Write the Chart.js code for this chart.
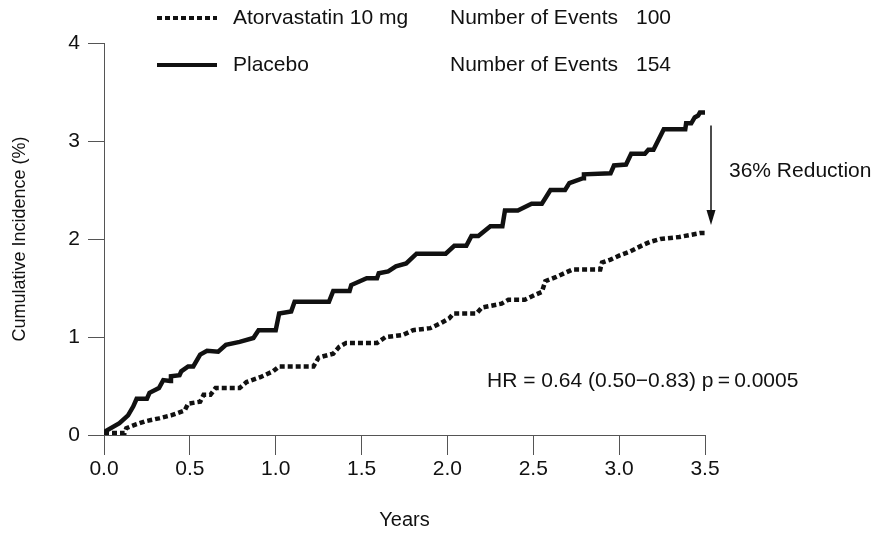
<!DOCTYPE html>
<html>
<head>
<meta charset="utf-8">
<script src="https://cdn.jsdelivr.net/npm/chart.js@4/dist/chart.umd.min.js"></script>
<style>
  html, body { margin: 0; padding: 0; background: #fff; }
  #wrap { width: 875px; height: 534px; position: relative; }
</style>
</head>
<body>
<div id="wrap"><canvas id="c" width="875" height="534"></canvas></div>
<script>
// ---- Data ----
const placeboYears = [0.0, 0.09, 0.14, 0.17, 0.19, 0.25, 0.265, 0.32, 0.345, 0.385, 0.39, 0.44, 0.45, 0.49, 0.52, 0.56, 0.60, 0.665, 0.71, 0.79, 0.87, 0.90, 1.00, 1.02, 1.09, 1.11, 1.31, 1.335, 1.43, 1.44, 1.53, 1.59, 1.60, 1.655, 1.70, 1.76, 1.82, 1.99, 2.04, 2.11, 2.14, 2.18, 2.25, 2.32, 2.335, 2.41, 2.49, 2.55, 2.60, 2.685, 2.71, 2.79, 2.795, 2.95, 2.97, 3.04, 3.07, 3.15, 3.17, 3.20, 3.26, 3.385, 3.39, 3.42, 3.44, 3.46, 3.47, 3.50];
const placeboIncidence = [0.03, 0.12, 0.20, 0.29, 0.37, 0.37, 0.43, 0.48, 0.56, 0.55, 0.60, 0.61, 0.65, 0.70, 0.70, 0.82, 0.86, 0.85, 0.92, 0.95, 0.99, 1.07, 1.07, 1.24, 1.26, 1.36, 1.36, 1.47, 1.47, 1.53, 1.60, 1.60, 1.65, 1.67, 1.72, 1.75, 1.85, 1.85, 1.93, 1.93, 2.03, 2.03, 2.13, 2.13, 2.29, 2.29, 2.36, 2.36, 2.50, 2.50, 2.57, 2.62, 2.66, 2.67, 2.75, 2.76, 2.87, 2.87, 2.91, 2.91, 3.12, 3.12, 3.18, 3.18, 3.24, 3.26, 3.29, 3.29];

const atorvaYears = [0.0, 0.12, 0.13, 0.19, 0.24, 0.32, 0.39, 0.47, 0.49, 0.56, 0.58, 0.62, 0.65, 0.79, 0.83, 0.91, 0.985, 1.02, 1.22, 1.25, 1.335, 1.37, 1.41, 1.59, 1.64, 1.74, 1.80, 1.90, 1.96, 2.01, 2.035, 2.17, 2.20, 2.315, 2.355, 2.45, 2.51, 2.55, 2.57, 2.63, 2.73, 2.89, 2.90, 2.95, 3.00, 3.06, 3.14, 3.18, 3.24, 3.35, 3.41, 3.47, 3.50];
const atorvaIncidence = [0.02, 0.02, 0.07, 0.11, 0.14, 0.17, 0.20, 0.25, 0.32, 0.34, 0.41, 0.41, 0.48, 0.48, 0.54, 0.59, 0.65, 0.70, 0.70, 0.79, 0.83, 0.90, 0.94, 0.94, 1.00, 1.02, 1.07, 1.09, 1.14, 1.19, 1.24, 1.24, 1.30, 1.34, 1.38, 1.38, 1.43, 1.46, 1.57, 1.61, 1.69, 1.69, 1.76, 1.79, 1.83, 1.87, 1.94, 1.97, 2.00, 2.02, 2.04, 2.06, 2.06];

const seriesNames = ["Atorvastatin 10 mg", "Placebo"];
const eventCounts = [100, 154];
const xTickValues = [0, 0.5, 1.0, 1.5, 2.0, 2.5, 3.0, 3.5];
const yTickValues = [0, 1, 2, 3, 4];
const reductionLabel = "36% Reduction";
const hrLabel = "HR = 0.64 (0.50\u22120.83) p\u2009=\u20090.0005";

// ---- Build chart ----
const FONT = "'Liberation Sans', Arial, Helvetica, sans-serif";
const INK = '#111';
const DASH = [5, 3];

function pts(xs, ys) { return xs.map((x, i) => ({ x: x, y: ys[i] })); }

const annotate = {
  id: 'annotate',
  afterDraw(chart) {
    const ctx = chart.ctx;
    const xs = chart.scales.x, ys = chart.scales.y;
    ctx.save();
    // Legend
    const legendRows = [{ y: 18, dash: DASH }, { y: 65, dash: [] }];
    ctx.font = '21px ' + FONT;
    ctx.fillStyle = INK;
    ctx.textBaseline = 'middle';
    legendRows.forEach((r, i) => {
      ctx.beginPath();
      ctx.strokeStyle = INK;
      ctx.lineWidth = 4;
      ctx.setLineDash(r.dash);
      ctx.moveTo(157, r.y);
      ctx.lineTo(217, r.y);
      ctx.stroke();
      ctx.setLineDash([]);
      ctx.textAlign = 'left';
      ctx.fillText(seriesNames[i], 233, r.y);
      ctx.fillText('Number of Events', 450, r.y);
      ctx.fillText(String(eventCounts[i]), 636, r.y);
    });
    // Reduction arrow
    const ax = xs.getPixelForValue(3.5) + 6;
    const yTop = ys.getPixelForValue(placeboIncidence[placeboIncidence.length - 1]) + 13;
    const yBot = ys.getPixelForValue(atorvaIncidence[atorvaIncidence.length - 1]) - 8;
    ctx.beginPath();
    ctx.lineWidth = 1.5;
    ctx.strokeStyle = INK;
    ctx.moveTo(ax, yTop);
    ctx.lineTo(ax, yBot - 10);
    ctx.stroke();
    ctx.beginPath();
    ctx.moveTo(ax - 4.5, yBot - 15);
    ctx.lineTo(ax + 4.5, yBot - 15);
    ctx.lineTo(ax, yBot);
    ctx.closePath();
    ctx.fill();
    ctx.textAlign = 'left';
    ctx.fillText(reductionLabel, ax + 18, (yTop + yBot) / 2 - 4);
    // HR text
    ctx.fillText(hrLabel, 487, ys.getPixelForValue(0.55));
    ctx.restore();
  }
};

new Chart(document.getElementById('c'), {
  type: 'scatter',
  data: {
    datasets: [
      {
        label: seriesNames[0],
        data: pts(atorvaYears, atorvaIncidence),
        showLine: true,
        borderColor: INK,
        borderWidth: 4.5,
        borderDash: DASH,
        borderCapStyle: 'butt',
        pointRadius: 0,
        tension: 0,
        fill: false
      },
      {
        label: seriesNames[1],
        data: pts(placeboYears, placeboIncidence),
        showLine: true,
        borderColor: INK,
        borderWidth: 4.5,
        borderCapStyle: 'butt',
        borderJoinStyle: 'miter',
        pointRadius: 0,
        tension: 0,
        fill: false
      }
    ]
  },
  plugins: [annotate],
  options: {
    responsive: false,
    animation: false,
    devicePixelRatio: 1,
    layout: { padding: { left: 0, right: 170, top: 43, bottom: 0 } },
    plugins: { legend: { display: false }, tooltip: { enabled: false } },
    scales: {
      x: {
        type: 'linear',
        min: 0, max: 3.5,
        afterBuildTicks: (s) => { s.ticks = xTickValues.map(v => ({ value: v })); },
        afterFit: (s) => { s.height = 99; },
        ticks: {
          color: INK,
          font: { family: FONT, size: 21 },
          padding: 2,
          maxRotation: 0,
          callback: (v) => Number(v).toFixed(1)
        },
        grid: { drawOnChartArea: false, drawTicks: true, tickLength: 20, color: '#555', lineWidth: 1 },
        border: { display: true, color: '#555', width: 1 },
        title: { display: true, text: 'Years', color: INK, font: { family: FONT, size: 20 }, padding: { top: 0, bottom: 2 } }
      },
      y: {
        type: 'linear',
        min: 0, max: 4,
        afterBuildTicks: (s) => { s.ticks = yTickValues.map(v => ({ value: v })); },
        afterFit: (s) => { s.width = 104; },
        ticks: {
          color: INK,
          font: { family: FONT, size: 21 },
          padding: 8,
          callback: (v) => String(v)
        },
        grid: { drawOnChartArea: false, drawTicks: true, tickLength: 16, color: '#555', lineWidth: 1 },
        border: { display: true, color: '#555', width: 1 },
        title: { display: true, text: 'Cumulative Incidence (%)', color: INK, font: { family: FONT, size: 18 }, padding: { top: 9, bottom: 0 } }
      }
    }
  }
});
</script>
</body>
</html>
